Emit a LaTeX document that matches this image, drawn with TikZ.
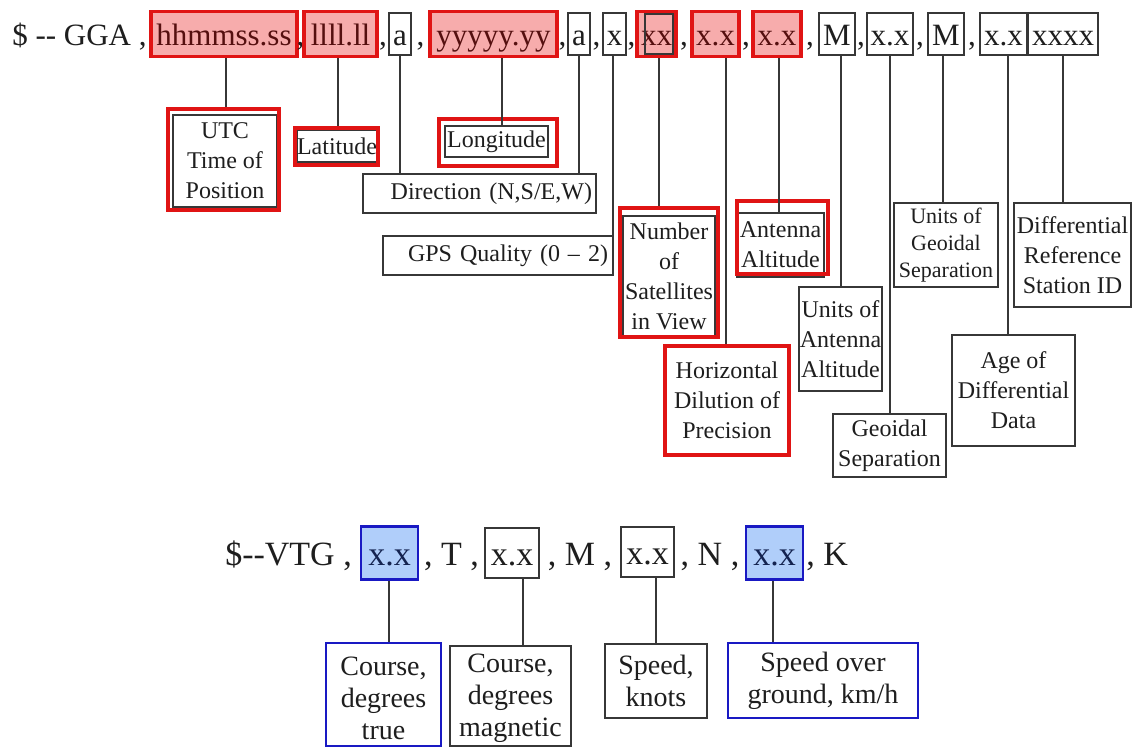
\documentclass[tikz,border=0pt]{standalone}
\usepackage{fontspec}
\setmainfont{Liberation Serif}
\definecolor{pinkfill}{RGB}{247,172,172}
\definecolor{redline}{RGB}{224,20,20}
\definecolor{redtxt}{RGB}{85,15,15}
\definecolor{bluefill}{RGB}{176,206,250}
\definecolor{blueline}{RGB}{25,25,195}
\definecolor{bluetxt}{RGB}{20,35,80}
\definecolor{ink}{RGB}{30,30,30}
\definecolor{edge}{RGB}{55,55,55}
\newcommand\rowfnt{\fontsize{23.25}{28}\selectfont}
\newcommand\vtgfnt{\fontsize{25.5}{30}\selectfont}
\newcommand\lblfnt{\fontsize{18}{22.5}\selectfont}
\newcommand\smlblfnt{\fontsize{16.5}{20.5}\selectfont}
\newcommand\vlblfnt{\fontsize{21}{24}\selectfont}
\tikzset{
  wh/.style 2 args={minimum width=#1*0.75pt, minimum height=#2*0.75pt},
  fld/.style={inner sep=0pt, font=\rowfnt, text height=21pt, text depth=4.5pt, text=ink},
  vfld/.style={inner sep=0pt, font=\vtgfnt, text height=23pt, text depth=5pt, text=ink},
  blkbox/.style={draw=edge, line width=1.5pt, fill=white},
  redbox/.style={draw=redline, line width=2.4pt, fill=pinkfill, text=redtxt},
  bluebox/.style={draw=blueline, line width=1.9pt, fill=bluefill, text=bluetxt},
  redframe/.style={draw=redline, line width=2.4pt, inner sep=0pt},
  redlbl/.style={draw=redline, line width=2.4pt, fill=white},
  bluelbl/.style={draw=blueline, line width=1.9pt, fill=white},
  lbl/.style={inner sep=0pt, align=center, font=\lblfnt, text=ink},
  vlbl/.style={inner sep=0pt, align=center, font=\vlblfnt, text=ink},
  sepx/.style={inner sep=0pt, font=\rowfnt, text=ink},
  vsepx/.style={inner sep=0pt, font=\vtgfnt, text=ink},
  conn/.style={draw=edge, line width=1.5pt},
}
\begin{document}
\begin{tikzpicture}[x=0.75pt, y=-0.75pt]
\fill[white] (0,0) rectangle (1134,747);
\path[use as bounding box] (0,0) rectangle (1134,747);

% ---------- GGA sentence ----------
\node[sepx, anchor=base west] (gga) at (12,45) {\$ -{}- GGA ,};
\node[fld, redbox, wh={146}{45}] (hh) at (224,34) {hhmmss.ss};
\node[sepx, anchor=base] (c1) at (300.5,45) {,};
\node[fld, redbox, wh={73}{45}] (ll) at (340.5,34) {llll.ll};
\node[sepx, anchor=base] (c2) at (383,45) {,};
\node[fld, blkbox, wh={22}{42}] (a1) at (400,34) {a};
\node[sepx, anchor=base] (c3) at (420.5,45) {,};
\node[fld, redbox, wh={127}{45}] (yy) at (493.5,34) {yyyyy.yy};
\node[sepx, anchor=base] (c4) at (562.5,45) {,};
\node[fld, blkbox, wh={22}{42}] (a2) at (579,34) {a};
\node[sepx, anchor=base] (c5) at (596.5,45) {,};
\node[fld, blkbox, wh={23}{42}] (x1) at (614.5,34) {x};
\node[sepx, anchor=base] (c6) at (631.5,45) {,};
\node[fld, redbox, wh={39}{45}] (xx) at (656.5,34) {xx};
\node[draw=edge, line width=1pt, inner sep=0pt, wh={28}{40}] (xxb) at (659,34) {};
\node[sepx, anchor=base] (c7) at (684,45) {,};
\node[fld, redbox, wh={47}{45}] (hd) at (715.5,34) {x.x};
\node[sepx, anchor=base] (c8) at (746,45) {,};
\node[fld, redbox, wh={48}{45}] (al) at (777,34) {x.x};
\node[sepx, anchor=base] (c9) at (810,45) {,};
\node[fld, blkbox, wh={36}{42}] (m1) at (837,34) {M};
\node[sepx, anchor=base] (c10) at (861,45) {,};
\node[fld, blkbox, wh={46}{42}] (gs) at (890,34) {x.x};
\node[sepx, anchor=base] (c11) at (920,45) {,};
\node[fld, blkbox, wh={36}{42}] (m2) at (946,34) {M};
\node[sepx, anchor=base] (c12) at (972,45) {,};
\node[fld, blkbox, wh={47}{42}] (ag) at (1003.5,34) {x.x};
\node[fld, blkbox, wh={70}{42}] (id) at (1063,34) {xxxx};

% ---------- GGA labels ----------
\node[lbl, blkbox, wh={104}{92}] (utc) at (225,161) {UTC\\Time of\\Position};
\node[redframe, wh={111}{101}] (utcR) at (223.5,159.5) {};
\node[lbl, blkbox, wh={80}{32}] (lat) at (337,146) {Latitude};
\node[redframe, wh={83}{37}] (latR) at (336.5,146.5) {};
\node[lbl, blkbox, wh={103}{31}] (lon) at (496.5,141.5) {Longitude};
\node[redframe, wh={118}{47}] (lonR) at (498,142.5) {};
\node[lbl, blkbox, wh={233}{39}, text width=225*0.75pt, align=right] (dir) at (479.5,193.5) {Direction (N,S/E,W)};
\node[lbl, blkbox, wh={230}{39}, text width=220*0.75pt, align=right] (gps) at (498,255.5) {GPS Quality (0 – 2)};
\node[lbl, blkbox, wh={92}{120}] (num) at (669,276) {Number\\of\\Satellites\\in View};
\node[redframe, wh={98}{129}] (numR) at (669,272.5) {};
\node[lbl, blkbox, wh={87}{64}] (ant) at (780.5,245) {Antenna\\Altitude};
\node[redframe, wh={91}{73}] (antR) at (782.5,237.5) {};
\node[lbl, blkbox, wh={83}{104}] (uaa) at (840.5,339) {Units of\\Antenna\\Altitude};
\node[lbl, redlbl, wh={124}{109}] (hdop) at (727,400.5) {Horizontal\\Dilution of\\Precision};
\node[lbl, blkbox, wh={113}{63}] (gsep) at (889.5,445.5) {Geoidal\\Separation};
\node[lbl, blkbox, font=\smlblfnt, wh={104}{84}] (ugs) at (946,245) {Units of\\Geoidal\\Separation};
\node[lbl, blkbox, wh={117}{104}] (drs) at (1072.5,255) {Differential\\Reference\\Station ID};
\node[lbl, blkbox, wh={123}{111}] (age) at (1013.5,390.5) {Age of\\Differential\\Data};

% ---------- GGA connectors ----------
\coordinate (k1) at (226,0);
\coordinate (k2) at (338,0);
\coordinate (k3) at (400,0);
\coordinate (k4) at (502,0);
\coordinate (k5) at (579,0);
\coordinate (k6) at (613,0);
\coordinate (k7) at (659,0);
\coordinate (k8) at (726,0);
\coordinate (k9) at (779,0);
\coordinate (k10) at (841,0);
\coordinate (k11) at (890,0);
\coordinate (k12) at (943,0);
\coordinate (k13) at (1008,0);
\coordinate (k14) at (1063,0);
\draw[conn] (hh.south -| k1) -- (k1 |- utcR.north);
\draw[conn] (ll.south -| k2) -- (k2 |- latR.north);
\draw[conn] (a1.south -| k3) -- (k3 |- dir.north);
\draw[conn] (yy.south -| k4) -- (k4 |- lon.north);
\draw[conn] (a2.south -| k5) -- (k5 |- dir.north);
\draw[conn] (x1.south -| k6) -- (k6 |- gps.north);
\draw[conn] (xx.south -| k7) -- (k7 |- numR.north);
\draw[conn] (hd.south -| k8) -- (k8 |- hdop.north);
\draw[conn] (al.south -| k9) -- (k9 |- ant.north);
\draw[conn] (m1.south -| k10) -- (k10 |- uaa.north);
\draw[conn] (gs.south -| k11) -- (k11 |- gsep.north);
\draw[conn] (m2.south -| k12) -- (k12 |- ugs.north);
\draw[conn] (ag.south -| k13) -- (k13 |- age.north);
\draw[conn] (id.south -| k14) -- (k14 |- drs.north);

% ---------- VTG sentence ----------
\node[vsepx, anchor=base west] (vtg) at (225,565) {\$-{}-VTG ,};
\node[vfld, bluebox, wh={57}{53}] (v1) at (389.5,553) {x.x};
\node[vsepx, anchor=base] (tt) at (451.5,565) {, T ,};
\node[vfld, blkbox, wh={54}{50}] (v2) at (512,553) {x.x};
\node[vsepx, anchor=base] (mm) at (580,565) {, M ,};
\node[vfld, blkbox, wh={53}{50}] (v3) at (647.5,552) {x.x};
\node[vsepx, anchor=base] (nn) at (710,565) {, N ,};
\node[vfld, bluebox, wh={57}{53}] (v4) at (774.5,553) {x.x};
\node[vsepx, anchor=base west] (kk) at (806,565) {, K};

% ---------- VTG labels ----------
\node[bluelbl, inner sep=0pt, wh={115}{103}] (ct) at (383.5,694.5) {};
\node[vlbl] (ctt) at (383.5,698.5) {Course,\\degrees\\true};
\node[blkbox, inner sep=0pt, wh={121}{100}] (cm) at (510.5,696) {};
\node[vlbl] (cmt) at (510.5,698.5) {Course,\\degrees\\magnetic};
\node[vlbl, blkbox, wh={102}{74}] (sk) at (656,681) {Speed,\\knots};
\node[vlbl, bluelbl, wh={190}{75}] (sg) at (823,680.5) {Speed over\\ground, km/h};

\coordinate (q1) at (389,0);
\coordinate (q2) at (523,0);
\coordinate (q3) at (656,0);
\coordinate (q4) at (773,0);
\draw[conn] (v1.south -| q1) -- (q1 |- ct.north);
\draw[conn] (v2.south -| q2) -- (q2 |- cm.north);
\draw[conn] (v3.south -| q3) -- (q3 |- sk.north);
\draw[conn] (v4.south -| q4) -- (q4 |- sg.north);
\end{tikzpicture}
\end{document}
